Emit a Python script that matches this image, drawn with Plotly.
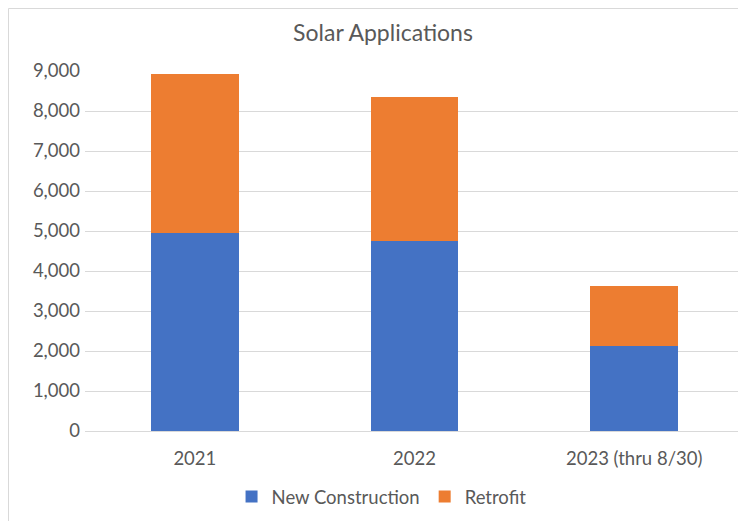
import plotly.graph_objects as go

categories = ["2021", "2022", "2023 (thru 8/30)"]
new_construction = [4960, 4740, 2120]
retrofit = [3960, 3610, 1515]
series_names = ["New Construction", "Retrofit"]
colors = ["#4472C4", "#ED7D31"]
y_ticks = [0, 1000, 2000, 3000, 4000, 5000, 6000, 7000, 8000, 9000]

FONT = "Lato, 'Open Sans', sans-serif"
GREY = "#595959"

# page body adds an 8px margin; the figure is sized for the remaining area
W, H = 738, 513
L, R, T, B = 77, 2, 63, 90
PW, PH = W - L - R, H - T - B

fig = go.Figure()
for name, vals, col in zip(series_names, [new_construction, retrofit], colors):
    fig.add_trace(go.Bar(x=categories, y=vals, name=name, marker=dict(color=col, line=dict(width=0))))

fig.update_layout(
    barmode="stack",
    bargap=0.6,
    width=W, height=H,
    margin=dict(l=L, r=R, t=T, b=B),
    paper_bgcolor="white", plot_bgcolor="white",
    title=dict(text="Solar Applications", x=375 / W, xanchor="center", y=1 - 25 / H, yanchor="middle",
               font=dict(family=FONT, size=23, color=GREY)),
    font=dict(family=FONT, size=18.5, color=GREY),
    xaxis=dict(showline=False, ticks="", showgrid=False, ticklabelstandoff=14,
               tickfont=dict(size=18.5, color=GREY)),
    yaxis=dict(range=[0, 9000], tickvals=y_ticks, tickformat=",d", showgrid=True, gridcolor="#D9D9D9",
               gridwidth=1, zeroline=True, zerolinecolor="#D9D9D9", zerolinewidth=1, ticks="",
               showline=False, ticklabelstandoff=4, tickfont=dict(size=18.5, color=GREY)),
    legend=dict(orientation="h", x=0.45, xanchor="center", y=-0.183, yanchor="middle",
                font=dict(size=18.5, color=GREY), itemwidth=30, traceorder="normal"),
    shapes=[dict(type="rect", xref="paper", yref="paper", x0=-L / PW + 0.5 / PW, x1=1.2, y0=-0.5,
                 y1=(PH + T - 0.5) / PH,
                 line=dict(color="#D9D9D9", width=1), fillcolor="rgba(0,0,0,0)", layer="below")],
)

fig.write_html("out.html")
